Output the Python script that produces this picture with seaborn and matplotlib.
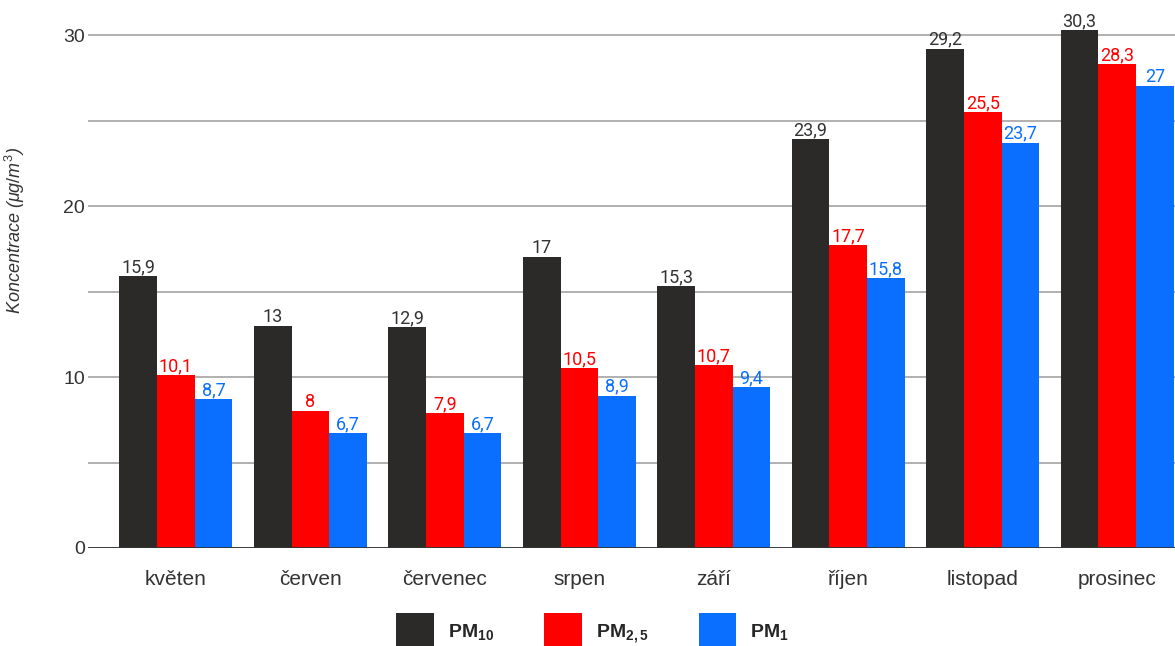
import matplotlib
matplotlib.use("Agg")
import matplotlib.pyplot as plt
import seaborn as sns
import pandas as pd
from matplotlib.patches import Patch

categories = ["květen", "červen", "červenec", "srpen", "září", "říjen", "listopad", "prosinec"]
pm10 = [15.9, 13, 12.9, 17, 15.3, 23.9, 29.2, 30.3]
pm25 = [10.1, 8, 7.9, 10.5, 10.7, 17.7, 25.5, 28.3]
pm1 = [8.7, 6.7, 6.7, 8.9, 9.4, 15.8, 23.7, 27]
series_names = ["PM10", "PM2.5", "PM1"]
legend_labels = [r"$\mathbf{PM}_{\mathbf{10}}$", r"$\mathbf{PM}_{\mathbf{2,5}}$", r"$\mathbf{PM}_{\mathbf{1}}$"]
colors = ["#2b2a29", "#ff0000", "#0a6eff"]
label_colors = ["#333333", "#ff0000", "#0a6eff"]

sns.set_theme(style="white")
plt.rcParams["font.family"] = ["Liberation Sans", "DejaVu Sans"]
plt.rcParams["mathtext.fontset"] = "custom"
plt.rcParams["mathtext.bf"] = "Liberation Sans:bold"
plt.rcParams["mathtext.rm"] = "Liberation Sans"
plt.rcParams["mathtext.it"] = "Liberation Sans:italic"

rows = []
for name, vals in zip(series_names, [pm10, pm25, pm1]):
    for c, v in zip(categories, vals):
        rows.append({"cat": c, "series": name, "val": v})
df = pd.DataFrame(rows)

fig = plt.figure(figsize=(11.75, 6.46), dpi=100)
ax = fig.add_axes([88/1175, 98/646, 1087/1175, 530/646])

sns.barplot(data=df, x="cat", y="val", hue="series", hue_order=series_names,
            palette=colors, width=0.84, gap=0, legend=False, ax=ax, saturation=1,
            linewidth=0, edgecolor="none")

for cont, lc in zip(ax.containers, label_colors):
    labs = [f"{b.get_height():g}".replace(".", ",") for b in cont]
    ax.bar_label(cont, labels=labs, color=lc, fontsize=13, padding=0,
                 family=["Liberation Sans Narrow", "Roboto", "DejaVu Sans"])

ax.set_xlim(-0.654, 7.43)
ax.set_ylim(0, 31)
ax.set_yticks([0, 10, 20, 30])
ax.set_yticks([5, 15, 25], minor=True)
ax.yaxis.grid(True, which="both", color="#aaaaaa", linewidth=1.3)
ax.set_axisbelow(True)
ax.axhline(0, color="#333333", linewidth=2, zorder=3)
for s in ax.spines.values():
    s.set_visible(False)
ax.tick_params(axis="y", which="both", length=0, labelsize=14, labelcolor="#333333", pad=2)
ax.tick_params(axis="x", length=0, labelsize=15, labelcolor="#333333", pad=16)
ax.set_xlabel("")
ax.set_ylabel(r"Koncentrace ($\mathit{\mu g/m^3}$)", fontsize=13, style="italic",
              color="#333333")
ax.yaxis.set_label_coords(-0.056, 0.6)

handles = [Patch(facecolor=c, edgecolor="none") for c in colors]
fig.legend(handles, legend_labels, loc="upper left",
           bbox_to_anchor=(396/1175, 1 - 613/646), frameon=False, ncol=3,
           fontsize=14, handlelength=1.95, handleheight=2.55, handletextpad=0.7,
           columnspacing=2.6, borderpad=0, borderaxespad=0)

fig.savefig("out.png", dpi=100)
